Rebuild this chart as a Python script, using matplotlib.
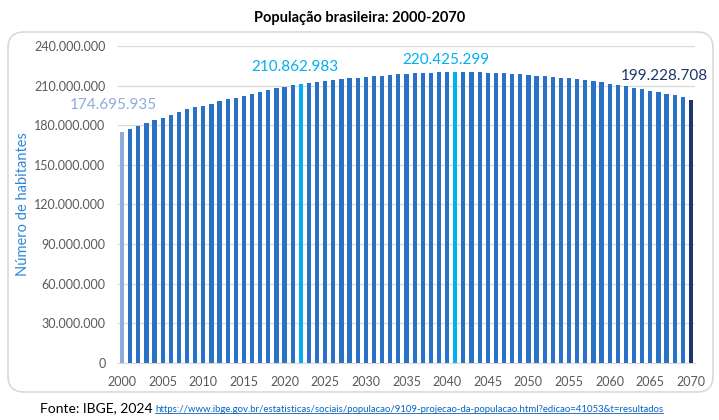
import matplotlib
matplotlib.use("Agg")
import matplotlib.pyplot as plt
from matplotlib.patches import FancyBboxPatch
from matplotlib.lines import Line2D
from matplotlib.ticker import FuncFormatter, MultipleLocator

plt.rcParams['font.family'] = ['Lato', 'DejaVu Sans']

# Dados (IBGE, projeção 2024)
anos = list(range(2000, 2071))
populacao = [
    174695935, 177500000, 179600000, 181600000, 183600000, 185800000,
    187800000, 189800000, 192000000, 193500000, 194900000, 196400000,
    198200000, 199700000, 201000000, 202500000, 204000000, 205300000,
    206700000, 208000000, 209300000, 210100000, 210862983, 211700000,
    212600000, 213400000, 214100000, 214800000, 215500000, 216100000,
    216700000, 217200000, 217600000, 218100000, 218600000, 218900000,
    219300000, 219600000, 219900000, 220100000, 220300000, 220425299,
    220400000, 220300000, 220100000, 219800000, 219500000, 219200000,
    218900000, 218600000, 218200000, 217600000, 217100000, 216700000,
    216100000, 215500000, 214800000, 214000000, 213200000, 212500000,
    211500000, 210600000, 209500000, 208500000, 207300000, 206300000,
    205000000, 203700000, 202600000, 201200000, 199228708,
]
destaques = [2000, 2022, 2041, 2070]

cor_base = '#2A72C6'
cores_destaque = {2000: '#8FAADC', 2022: '#00B0F0', 2041: '#00B0F0', 2070: '#1F3470'}
# deslocamento dos rótulos (pixels)
offsets = {2000: (-9, 27), 2022: (-6, 17), 2041: (-9, 12), 2070: (-27, 24)}


def fmt_pt(v, pos=None):
    return f"{int(v):,}".replace(',', '.')


fig = plt.figure(figsize=(7.19, 4.20), dpi=100)
ax = fig.add_axes([0.1641, 0.1357, 0.8025, 0.7548])

cores = [cores_destaque.get(a, cor_base) for a in anos]
ax.bar(anos, populacao, width=0.52, color=cores, zorder=3)

ax.set_xlim(1999.5, 2070.5)
ax.set_ylim(0, 240000000)
ax.yaxis.set_major_locator(MultipleLocator(30000000))
ax.yaxis.set_major_formatter(FuncFormatter(fmt_pt))
ax.xaxis.set_major_locator(MultipleLocator(5))
ax.grid(axis='y', color='#D9D9D9', linewidth=0.9, zorder=0)
for s in ['top', 'right', 'left']:
    ax.spines[s].set_visible(False)
ax.spines['bottom'].set_color('#D9D9D9')
ax.tick_params(axis='both', length=0, labelsize=9, colors='#595959')
ax.tick_params(axis='y', pad=9)
ax.tick_params(axis='x', pad=9)

ax.set_ylabel('Número de habitantes', fontsize=10.5, color='#2F88D8', labelpad=3)

for a in destaques:
    v = populacao[anos.index(a)]
    ax.annotate(fmt_pt(v), xy=(a, v), xytext=offsets[a], textcoords='offset pixels',
                ha='center', va='center', fontsize=11, color=cores_destaque[a])

fig.text(0.5, 0.957, 'População brasileira: 2000-2070', ha='center', va='center',
         fontsize=10.5, fontweight='bold', color='black')

# moldura arredondada
moldura = FancyBboxPatch((8, 420 - 392), 705, 360, boxstyle='round,pad=0,rounding_size=16',
                         transform=None, facecolor='none', edgecolor='#D9D9D9', linewidth=1.2)
fig.add_artist(moldura)

fig.text(0.056, 0.028, 'Fonte: IBGE, 2024', ha='left', va='center', fontsize=10, color='black')
url = 'https://www.ibge.gov.br/estatisticas/sociais/populacao/9109-projecao-da-populacao.html?edicao=41053&t=resultados'
link = fig.text(0.2155, 0.026, url, ha='left', va='center', fontsize=6.9, color='#0563C1')

fig.canvas.draw()
bb = link.get_window_extent(fig.canvas.get_renderer())
y_sub = (bb.y0 + 1) / fig.bbox.height
fig.add_artist(Line2D([bb.x0 / fig.bbox.width, bb.x1 / fig.bbox.width], [y_sub, y_sub],
                      transform=fig.transFigure, color='#0563C1', linewidth=0.6))

fig.savefig('out.png', dpi=100)
